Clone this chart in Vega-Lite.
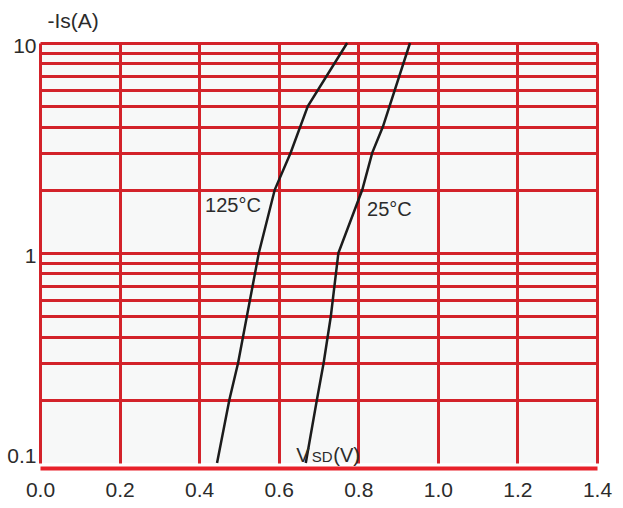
{
  "$schema": "https://vega.github.io/schema/vega-lite/v6.json",
  "width": 557,
  "height": 420,
  "autosize": {"type": "none"},
  "padding": {"left": 40, "top": 43, "right": 26, "bottom": 45},
  "background": "white",
  "config": {
    "view": {"stroke": null, "fill": "#f7f8f8"},
    "font": "Liberation Sans",
    "axis": {"labelFont": "Liberation Sans", "titleFont": "Liberation Sans"}
  },
  "datasets": {
    "curves": [
      {"series": "125C", "v": 0.445, "i": 0.1},
      {"series": "125C", "v": 0.476, "i": 0.2},
      {"series": "125C", "v": 0.498, "i": 0.3},
      {"series": "125C", "v": 0.52, "i": 0.5},
      {"series": "125C", "v": 0.55, "i": 1.0},
      {"series": "125C", "v": 0.59, "i": 2.0},
      {"series": "125C", "v": 0.63, "i": 3.0},
      {"series": "125C", "v": 0.673, "i": 5.0},
      {"series": "125C", "v": 0.772, "i": 10},
      {"series": "25C", "v": 0.668, "i": 0.1},
      {"series": "25C", "v": 0.696, "i": 0.2},
      {"series": "25C", "v": 0.713, "i": 0.3},
      {"series": "25C", "v": 0.731, "i": 0.5},
      {"series": "25C", "v": 0.75, "i": 1.0},
      {"series": "25C", "v": 0.81, "i": 2.0},
      {"series": "25C", "v": 0.835, "i": 3.0},
      {"series": "25C", "v": 0.862, "i": 4.0},
      {"series": "25C", "v": 0.93, "i": 10}
    ],
    "labels": [
      {"text": "125°C", "x": 0.415, "y": 1.67},
      {"text": "25°C", "x": 0.822, "y": 1.6}
    ],
    "bigtext": [
      {"text": "V", "x": 0.644, "y": 0.1},
      {"text": "(V)", "x": 0.737, "y": 0.1}
    ],
    "smalltext": [
      {"text": "SD", "x": 0.683, "y": 0.1}
    ]
  },
  "layer": [
    {
      "data": {"name": "curves"},
      "mark": {"type": "line", "color": "#1c1c1c", "strokeWidth": 2.5},
      "encoding": {
        "x": {
          "field": "v", "type": "quantitative",
          "scale": {"domain": [0, 1.4], "nice": false, "zero": false},
          "axis": {
            "values": [0, 0.2, 0.4, 0.6, 0.8, 1.0, 1.2, 1.4],
            "format": ".1f",
            "grid": true, "gridColor": "#d3222a", "gridWidth": 3,
            "domain": true, "domainColor": "#e8212a", "domainWidth": 4,
            "offset": 5,
            "ticks": false,
            "labelFontSize": 21, "labelColor": "#2b2b2b", "labelPadding": 11,
            "labelFlush": false,
            "title": null
          }
        },
        "y": {
          "field": "i", "type": "quantitative",
          "scale": {"type": "log", "domain": [0.1, 10], "nice": false},
          "axis": {
            "values": [0.1, 0.2, 0.3, 0.4, 0.5, 0.6, 0.7, 0.8, 0.9, 1, 2, 3, 4, 5, 6, 7, 8, 9, 10],
            "labelExpr": "datum.value == 10 ? '10' : datum.value == 1 ? '1' : datum.value == 0.1 ? '0.1' : ''",
            "grid": true, "gridColor": "#d3222a", "gridWidth": 3,
            "gridOpacity": {"condition": {"test": "datum.value == 0.1", "value": 0}, "value": 1},
            "domain": false, "ticks": false,
            "labelFontSize": 21, "labelColor": "#2b2b2b", "labelPadding": 4,
            "labelOffset": {"condition": {"test": "datum.value == 0.1", "value": -7}, "value": 3},
            "labelFlush": false,
            "title": "-Is(A)",
            "titleAngle": 0, "titleAlign": "left", "titleBaseline": "alphabetic",
            "titleX": 7, "titleY": -16,
            "titleFontSize": 21, "titleFontWeight": "normal", "titleColor": "#2b2b2b"
          }
        },
        "detail": {"field": "series"},
        "order": {"field": "i", "type": "quantitative"}
      }
    },
    {
      "data": {"name": "labels"},
      "mark": {"type": "text", "align": "left", "baseline": "middle", "fontSize": 20, "color": "#2b2b2b"},
      "encoding": {
        "x": {"field": "x", "type": "quantitative"},
        "y": {"field": "y", "type": "quantitative"},
        "text": {"field": "text"}
      }
    },
    {
      "data": {"name": "bigtext"},
      "mark": {"type": "text", "align": "left", "baseline": "alphabetic", "fontSize": 20, "color": "#2b2b2b", "dy": -1},
      "encoding": {
        "x": {"field": "x", "type": "quantitative"},
        "y": {"field": "y", "type": "quantitative"},
        "text": {"field": "text"}
      }
    },
    {
      "data": {"name": "smalltext"},
      "mark": {"type": "text", "align": "left", "baseline": "alphabetic", "fontSize": 15, "color": "#2b2b2b", "dy": -1},
      "encoding": {
        "x": {"field": "x", "type": "quantitative"},
        "y": {"field": "y", "type": "quantitative"},
        "text": {"field": "text"}
      }
    }
  ]
}
